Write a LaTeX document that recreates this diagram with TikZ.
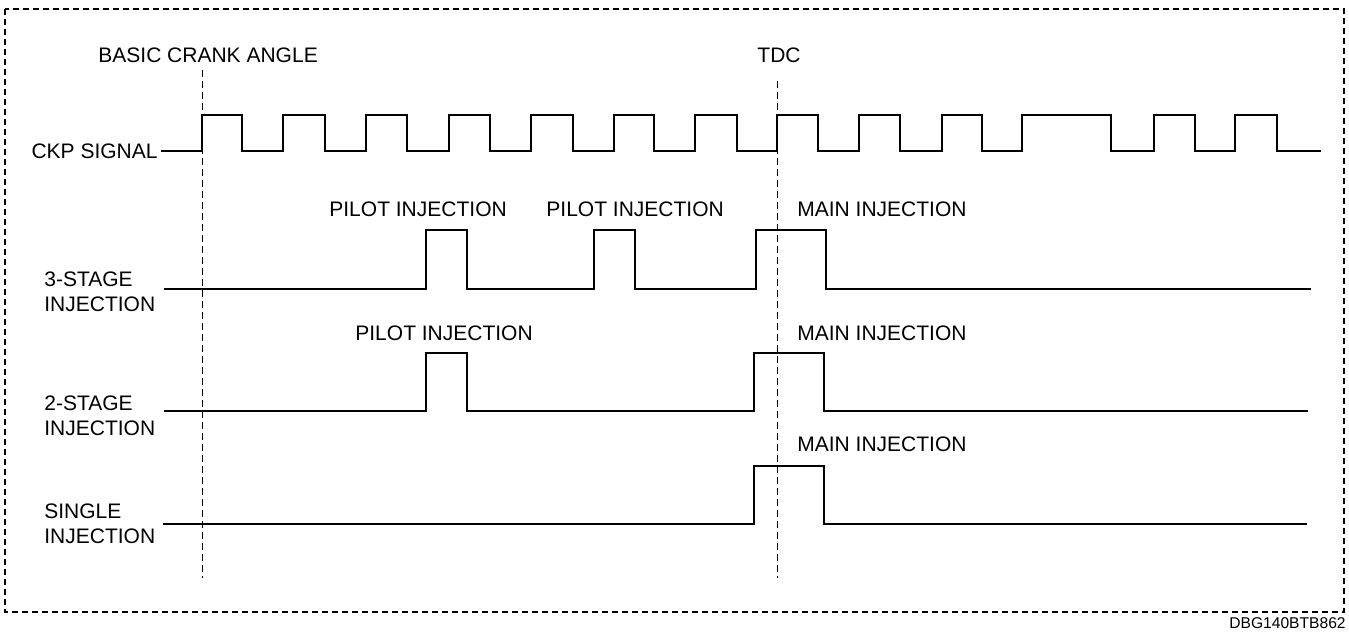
\documentclass[tikz,border=0pt]{standalone}
\usepackage{fontspec}
\setmainfont{Liberation Sans}
\usetikzlibrary{positioning}

\begin{document}
\begin{tikzpicture}[
    x=0.5pt, y=-0.5pt,
    lbl/.style={inner sep=0pt, font=\fontsize{10.5}{12.5}\selectfont, align=left},
    signal/.style={draw=black, line width=1pt, line join=miter},
    marker/.style={draw=black, line width=0.5pt, dash pattern=on 3.5pt off 2pt},
    frame/.style={draw=black, line width=0.6pt, dash pattern=on 3pt off 2pt}
]
    \useasboundingbox (0,0) rectangle (1349,632);

    % Frame
    \draw[frame] (5,9) rectangle (1344,612);
    \node[inner sep=0pt, font=\fontsize{7.8}{9}\selectfont, anchor=base east] (code) at (1346,628) {DBG140BTB862};

    % Nodes
    \node[lbl, anchor=base west] (crank) at (98,62) {BASIC CRANK ANGLE};
    \node[lbl, anchor=base] (tdc) at (779,62) {TDC};
    \node[lbl, anchor=east, inner xsep=1.5pt] (ckp) at (161,151) {CKP SIGNAL};
    \node[lbl, anchor=west] (stage3) at (44,291.5) {3-STAGE\\INJECTION};
    \node[lbl, anchor=west] (stage2) at (44,415.5) {2-STAGE\\INJECTION};
    \node[lbl, anchor=west] (single) at (44,523.5) {SINGLE\\INJECTION};

    \node[lbl, anchor=base west] (pilot31) at (329,216) {PILOT INJECTION};
    \node[lbl, anchor=base west] (pilot32) at (546,216) {PILOT INJECTION};
    \node[lbl, anchor=base west] (main3) at (797,216) {MAIN INJECTION};
    \node[lbl, anchor=base west] (pilot2) at (355,340) {PILOT INJECTION};
    \node[lbl, anchor=base west] (main2) at (797,340) {MAIN INJECTION};
    \node[lbl, anchor=base west] (main1) at (797,451) {MAIN INJECTION};

    % Reference lines
    \draw[marker] (202,70) -- (202,578);
    \draw[marker] (777,81) -- (777,578);

    % CKP signal
    \draw[signal] (ckp.east)
        \foreach \r/\f in {202/242, 283/325, 366/407, 449/490, 531/573, 614/654, 695/737,
                           777/818, 859/900, 942/982, 1022/1111, 1154/1195, 1235/1277}
        { -- (\r,151) -- (\r,115) -- (\f,115) -- (\f,151) }
        -- (1321,151);

    % Injection signals
    \draw[signal] (164,289)
        \foreach \r/\f in {426/467, 594/635, 756/826}
        { -- (\r,289) -- (\r,230) -- (\f,230) -- (\f,289) }
        -- (1311,289);
    \draw[signal] (164,411)
        \foreach \r/\f in {426/467, 754/824}
        { -- (\r,411) -- (\r,353) -- (\f,353) -- (\f,411) }
        -- (1308,411);
    \draw[signal] (163,524) -- (754,524) -- (754,466) -- (824,466) -- (824,524) -- (1307,524);

\end{tikzpicture}
\end{document}
